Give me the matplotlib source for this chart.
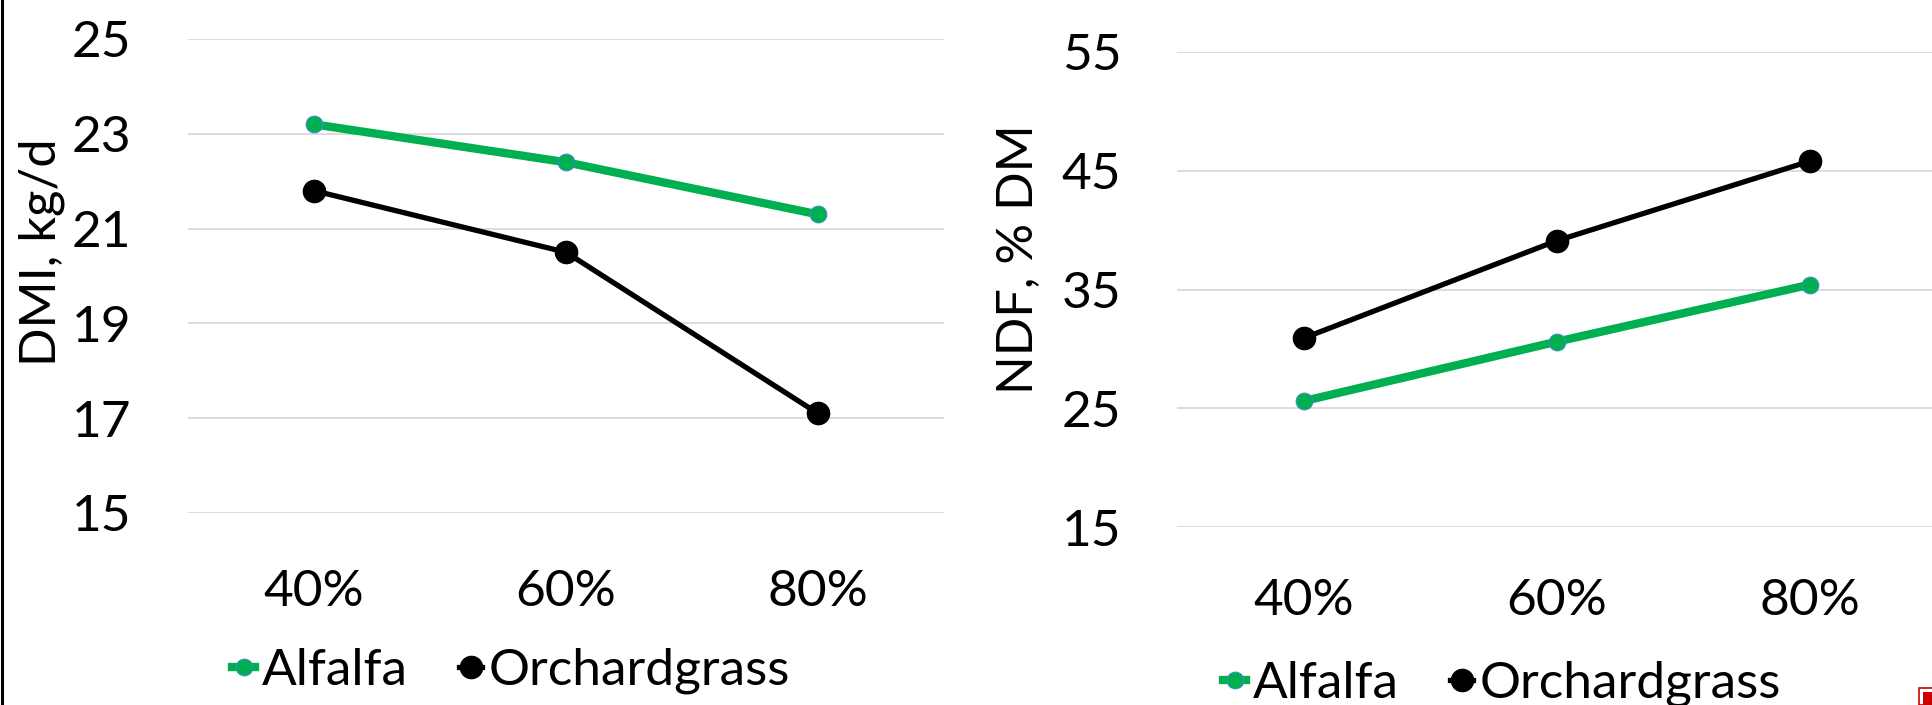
import matplotlib
matplotlib.use("Agg")
import matplotlib.pyplot as plt
from matplotlib.patches import Rectangle
from matplotlib.lines import Line2D

# forage inclusion levels and responses
levels = ["40%", "60%", "80%"]
dmi_alfalfa = [23.2, 22.4, 21.3]
dmi_orchard = [21.8, 20.5, 17.1]
ndf_alfalfa = [25.6, 30.6, 35.4]
ndf_orchard = [30.9, 39.1, 45.8]

dmi_ticks = [15, 17, 19, 21, 23, 25]
ndf_ticks = [15, 25, 35, 45, 55]

GREEN = "#00B050"
FONT = ["Lato", "DejaVu Sans"]
plt.rcParams["font.family"] = FONT

W, H = 1932, 705
fig = plt.figure(figsize=(W / 100, H / 100), dpi=100)


def px_axes(x0, x1, ytop, ybot):
    return fig.add_axes([x0 / W, 1 - ybot / H, (x1 - x0) / W, (ybot - ytop) / H])


def draw_panel(ax, alf, orch, ticks, ylabel, ypad, xpad):
    x = range(len(levels))
    ax.plot(x, alf, color=GREEN, lw=6, marker="o", ms=12,
            mfc=GREEN, mec="#3a8fc0", mew=0.8, zorder=3, label="Alfalfa")
    ax.plot(x, orch, color="black", lw=3.8, marker="o", ms=16,
            mfc="black", mec="black", zorder=3, label="Orchardgrass")
    ax.set_xlim(-0.5, len(levels) - 0.5)
    ax.set_ylim(ticks[0], ticks[-1])
    ax.set_yticks(ticks)
    ax.set_xticks(list(x))
    ax.set_xticklabels(levels)
    ax.grid(axis="y", color="#d9d9d9", lw=1.3)
    ax.set_axisbelow(True)
    for s in ax.spines.values():
        s.set_visible(False)
    ax.tick_params(axis="y", length=0, pad=ypad, labelsize=37)
    ax.tick_params(axis="x", length=0, pad=xpad, labelsize=37)
    ax.set_ylabel(ylabel, fontsize=36.5)
    return ax


ax1 = px_axes(188, 944, 39, 513)
draw_panel(ax1, dmi_alfalfa, dmi_orchard, dmi_ticks, "DMI, kg/d", 41, 40)
ax1.yaxis.set_label_coords(-0.163, 0.55)

ax2 = px_axes(1177, 1936, 52, 527)
draw_panel(ax2, ndf_alfalfa, ndf_orchard, ndf_ticks, "NDF, % DM", 40, 37)
ax2.yaxis.set_label_coords(-0.179, 0.564)

legend_kw = dict(loc="center", ncol=2, frameon=False, fontsize=37,
                 handlelength=0.45, handletextpad=0.12, columnspacing=1.0,
                 borderaxespad=0)
h, l = ax1.get_legend_handles_labels()
fig.legend(h, l, bbox_to_anchor=(511 / W, 1 - 671 / H), **legend_kw)
fig.legend(h, l, bbox_to_anchor=(1502 / W, 1 - 684 / H), **legend_kw)

# thin frame line on the left edge and the small red marker bottom right
fig.add_artist(Line2D([1.5 / W, 1.5 / W], [0, 1], color="black", lw=2.2,
                      transform=fig.transFigure))
fig.add_artist(Rectangle((1919 / W, 0), 16 / W, 17 / H, fill=False,
                         edgecolor="#cc0000", lw=1.2, transform=fig.transFigure))
fig.add_artist(Rectangle((1923 / W, 0), 12 / W, 13 / H, facecolor="#cc0000",
                         edgecolor="none", transform=fig.transFigure))

fig.savefig("out.png", dpi=100, facecolor="white")
